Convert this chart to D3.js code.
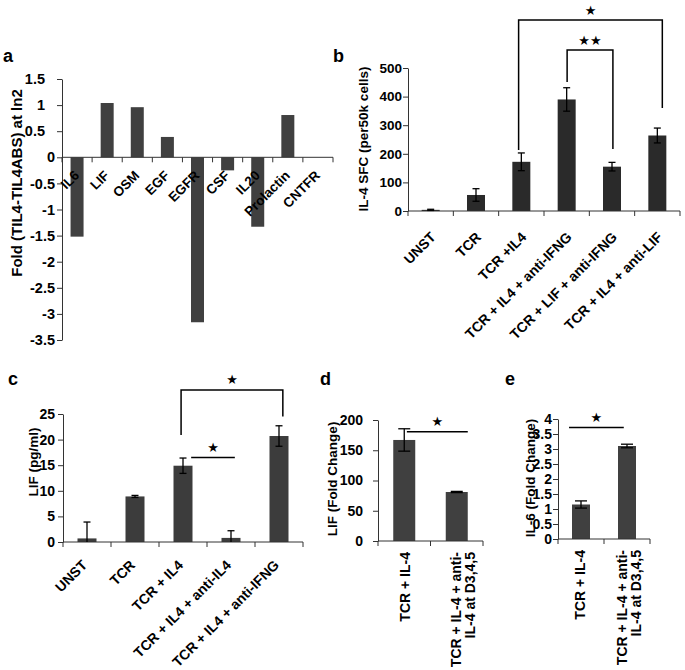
<!DOCTYPE html>
<html>
<head>
<meta charset="utf-8">
<script src="https://cdn.jsdelivr.net/npm/d3@7"></script>
<style>
  body { margin: 0; background: #fff; }
  svg text { font-family: "Liberation Sans", Arial, sans-serif; font-weight: bold; fill: #000; }
</style>
</head>
<body>
<svg id="fig" width="685" height="670"></svg>
<script>
// ---- panel a: fold change per gene
const aCats = ["IL6", "LIF", "OSM", "EGF", "EGFR", "CSF", "IL20", "Prolactin", "CNTFR"];
const aVals = [-1.52, 1.04, 0.96, 0.39, -3.16, -0.25, -1.33, 0.81, 0];
const aTicks = [1.5, 1, 0.5, 0, -0.5, -1, -1.5, -2, -2.5, -3, -3.5];

// ---- panel b: IL-4 SFC
const bCats = ["UNST", "TCR", "TCR +IL4", "TCR + IL4 + anti-IFNG", "TCR + LIF + anti-IFNG", "TCR + IL4 + anti-LIF"];
const bVals = [4, 56, 172, 390, 155, 264];
const bErr = [2, 22, 31, 41, 15, 26];
const bTicks = [0, 100, 200, 300, 400, 500];

// ---- panel c: LIF pg/ml
const cCats = ["UNST", "TCR", "TCR + IL4", "TCR + IL4 + anti-IL4", "TCR + IL4 + anti-IFNG"];
const cVals = [0.7, 8.9, 14.9, 0.8, 20.7];
const cErr = [3.2, 0.2, 1.5, 1.4, 2.0];
const cTicks = [0, 5, 10, 15, 20, 25];

// ---- panel d / e: fold change
const deCats = [["TCR + IL-4"], ["TCR + IL-4 + anti-", "IL-4 at D3,4,5"]];
const dVals = [167, 81];
const dErr = [18.5, 1];
const dTicks = [0, 50, 100, 150, 200];
const eVals = [1.15, 3.1];
const eErr = [0.12, 0.06];
const eTicks = [0, 0.5, 1, 1.5, 2, 2.5, 3, 3.5, 4];

// significance marks, positions in category units and data units
const bSig = [
  { kind: "bracket", u0: 2.44, u1: 5.61, top: 668, left: 213, right: 360, label: "\u2605" },
  { kind: "bracket", u0: 3.51, u1: 4.52, top: 563, left: 451, right: 217, label: "\u2605\u2605" }
];
const cSig = [
  { kind: "bracket", u0: 2.46, u1: 4.58, top: 29.7, left: 20.9, right: 24.5, label: "\u2605" },
  { kind: "line", u0: 2.67, u1: 3.58, top: 16.5, label: "\u2605" }
];
const dSig = [{ kind: "line", u0: 0.55, u1: 1.71, top: 180.7, label: "\u2605" }];
const eSig = [{ kind: "line", u0: 0.24, u1: 1.43, top: 3.72, label: "\u2605" }];

const svg = d3.select("#fig");

function drawPanel(o) {
  const n = o.cats.length;
  const x = d3.scaleBand().domain(d3.range(n)).range([o.x0, o.x1]);
  const y = d3.scaleLinear().domain(o.domain).range(o.yRange);
  const bw = x.bandwidth();
  const u = v => o.x0 + v * bw;
  const zero = y(Math.max(0, o.domain[0]));
  const g = svg.append("g");

  // y axis
  const ya = g.append("g")
    .attr("transform", `translate(${o.x0},0)`)
    .call(d3.axisLeft(y).tickValues(o.ticks).tickSize(5).tickSizeOuter(0)
      .tickPadding(o.tickPad).tickFormat(d => String(d)));
  ya.select(".domain").attr("stroke", "#333");
  ya.selectAll(".tick line").attr("stroke", "#333");
  ya.selectAll(".tick text")
    .style("font-size", o.tickFont + "px")
    .attr("dx", d => (o.posShift && d > 0) ? -o.posShift : 0);

  // bars
  g.selectAll(".bar").data(o.vals).join("rect")
    .attr("x", (d, i) => x(i) + bw / 2 - o.barW / 2)
    .attr("y", d => Math.min(y(d), zero))
    .attr("width", o.barW)
    .attr("height", d => Math.abs(y(d) - zero))
    .attr("fill", o.color);

  // category labels
  o.cats.forEach((c, i) => {
    const cx = x(i) + bw / 2;
    const lines = Array.isArray(c) ? c : [c];
    lines.forEach((t, k) => {
      if (o.rot === -45) {
        g.append("text")
          .attr("transform", `translate(${cx + o.labDx},${zero + o.labDy}) rotate(-45)`)
          .attr("text-anchor", "end")
          .style("font-size", o.labFont + "px")
          .text(t);
      } else {
        const off = lines.length > 1 ? o.labShift + (k - (lines.length - 1) / 2) * o.lineH : o.labDx;
        g.append("text")
          .attr("transform", `translate(${cx + off},${zero + o.labDy}) rotate(-90)`)
          .attr("text-anchor", "end")
          .attr("dy", "0.35em")
          .style("font-size", o.labFont + "px")
          .text(t);
      }
    });
  });

  // x axis with ticks on category boundaries
  g.append("line")
    .attr("x1", o.x0).attr("x2", o.x1).attr("y1", zero).attr("y2", zero)
    .attr("stroke", "#333");
  g.selectAll(".xt").data(d3.range(n + 1)).join("line")
    .attr("x1", d => u(d)).attr("x2", d => u(d))
    .attr("y1", zero).attr("y2", zero + 5)
    .attr("stroke", "#333");

  // error bars
  if (o.err) {
    o.vals.forEach((v, i) => {
      const cx = x(i) + bw / 2;
      const lo = Math.max(v - o.err[i], o.domain[0]);
      const hi = v + o.err[i];
      g.append("line").attr("x1", cx).attr("x2", cx)
        .attr("y1", y(lo)).attr("y2", y(hi))
        .attr("stroke", "#000").attr("stroke-width", 1.3);
      const caps = [hi];
      if (v - o.err[i] > o.domain[0]) caps.push(lo);
      caps.forEach(c => {
        g.append("line").attr("x1", cx - o.capW / 2).attr("x2", cx + o.capW / 2)
          .attr("y1", y(c)).attr("y2", y(c))
          .attr("stroke", "#000").attr("stroke-width", 1.3);
      });
    });
  }

  // significance brackets
  (o.sig || []).forEach(s => {
    const xa = u(s.u0), xb = u(s.u1), yt = y(s.top);
    const path = s.kind === "bracket"
      ? `M${xa},${y(s.left)}V${yt}H${xb}V${y(s.right)}`
      : `M${xa},${yt}H${xb}`;
    g.append("path").attr("d", path).attr("fill", "none")
      .attr("stroke", "#000").attr("stroke-width", 1.5);
    g.append("text")
      .attr("x", (xa + xb) / 2).attr("y", yt - 10).attr("dy", "0.35em")
      .attr("text-anchor", "middle")
      .style("font-family", "DejaVu Sans")
      .style("font-size", "13px")
      .text(s.label);
  });

  // y title
  g.append("text")
    .attr("transform", `translate(${o.titleX},${o.titleY}) rotate(-90)`)
    .attr("text-anchor", "middle")
    .attr("dy", "0.35em")
    .style("font-size", o.titleFont + "px")
    .text(o.title);

  // panel letter
  svg.append("text")
    .attr("x", o.letterX).attr("y", o.letterY)
    .style("font-size", "18px")
    .text(o.letter);
}

drawPanel({
  letter: "a", letterX: 3, letterY: 62,
  cats: aCats, vals: aVals, ticks: aTicks, domain: [-3.5, 1.5],
  x0: 62, x1: 333, yRange: [340, 79], barW: 13, color: "#404040",
  tickFont: 14.5, tickPad: 2, posShift: 10,
  rot: -45, labFont: 13.5, labDx: 3, labDy: 19,
  title: "Fold (TIL4-TIL4ABS) at ln2", titleX: 17, titleY: 183, titleFont: 15
});

drawPanel({
  letter: "b", letterX: 333, letterY: 62,
  cats: bCats, vals: bVals, err: bErr, ticks: bTicks, domain: [0, 500],
  x0: 408, x1: 680, yRange: [211, 68], barW: 18, color: "#2a2a2a", capW: 7,
  tickFont: 13.5, tickPad: 1,
  rot: -45, labFont: 14, labDx: 6, labDy: 27,
  sig: bSig,
  title: "IL-4 SFC (per50k cells)", titleX: 363, titleY: 139, titleFont: 13.5
});

drawPanel({
  letter: "c", letterX: 8, letterY: 385,
  cats: cCats, vals: cVals, err: cErr, ticks: cTicks, domain: [0, 25],
  x0: 63, x1: 303, yRange: [542, 414], barW: 19, color: "#3c3c3c", capW: 7,
  tickFont: 14, tickPad: 3,
  rot: -45, labFont: 14, labDx: 1, labDy: 24,
  sig: cSig,
  title: "LIF (pg/ml)", titleX: 33, titleY: 462, titleFont: 13.5
});

drawPanel({
  letter: "d", letterX: 320, letterY: 385,
  cats: deCats, vals: dVals, err: dErr, ticks: dTicks, domain: [0, 200],
  x0: 378, x1: 483, yRange: [541, 420], barW: 22, color: "#404040", capW: 12,
  tickFont: 14, tickPad: 10,
  rot: -90, labFont: 14, labDx: 1, labDy: 11, labShift: 6, lineH: 14,
  sig: dSig,
  title: "LIF (Fold Change)", titleX: 332, titleY: 479, titleFont: 13.5
});

drawPanel({
  letter: "e", letterX: 505, letterY: 385,
  cats: deCats, vals: eVals, err: eErr, ticks: eTicks, domain: [0, 4],
  x0: 558, x1: 650, yRange: [539, 419], barW: 18, color: "#404040", capW: 12,
  tickFont: 14, tickPad: 1,
  rot: -90, labFont: 14, labDx: -1, labDy: 11, labShift: 2, lineH: 14,
  sig: eSig,
  title: "IL-6 (Fold Change)", titleX: 530, titleY: 478, titleFont: 13.5
});
</script>
</body>
</html>
